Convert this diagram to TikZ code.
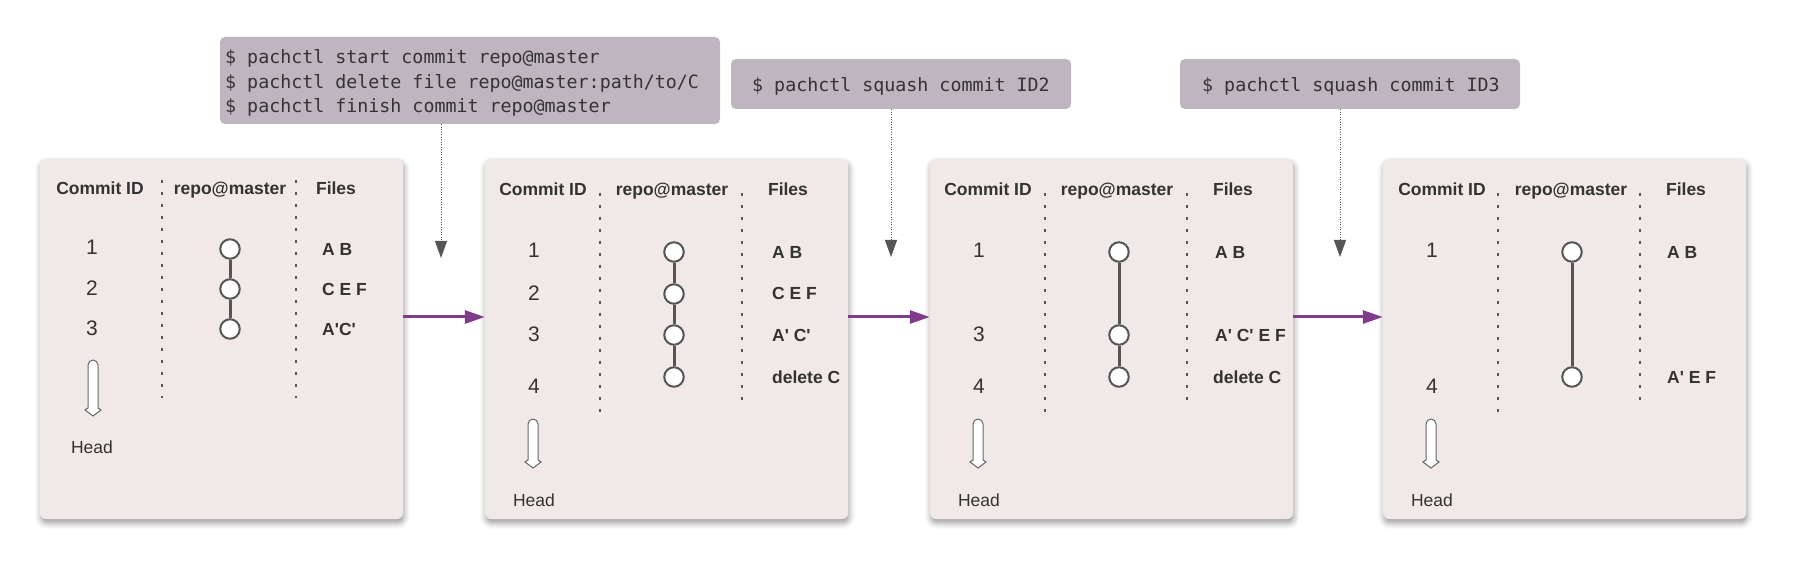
\documentclass[tikz,border=0pt]{standalone}
\usepackage{fontspec}
\setmainfont{Liberation Sans}
\newfontfamily\cmdfont{DejaVu Sans Mono}
\font\filesfont="Liberation Sans/B" at 17.5pt
\usetikzlibrary{arrows.meta,shadows.blur}
\definecolor{panelbg}{HTML}{F0E9E8}
\definecolor{cmdbg}{HTML}{BFB5BE}
\definecolor{ink}{HTML}{333333}
\definecolor{stemgray}{HTML}{555555}
\definecolor{headgray}{HTML}{666666}
\definecolor{flowpurple}{HTML}{7F3C8D}
\begin{document}
\begin{tikzpicture}[x=1pt,y=-1pt,
  panel/.style={fill=panelbg, rounded corners=6pt, minimum width=363pt, minimum height=360pt, inner sep=0pt,
    blur shadow={shadow xshift=1pt, shadow yshift=-4pt, shadow blur radius=6pt, shadow opacity=40}},
  cmdbox/.style={fill=cmdbg, rounded corners=5pt, inner sep=0pt},
  cmdtext/.style={font=\cmdfont\fontsize{18.3}{24.4}\selectfont, text=ink, inner sep=0pt, align=left, anchor=base west},
  hdr/.style={font=\bfseries\fontsize{17.5}{21}\selectfont, text=ink, inner sep=0pt, anchor=base},
  num/.style={font=\fontsize{21}{25}\selectfont, text=ink, inner sep=0pt, anchor=base},
  files/.style={font=\filesfont, text=ink, inner sep=0pt, anchor=base west},
  headlbl/.style={font=\fontsize{17.5}{21}\selectfont, text=ink, inner sep=0pt, anchor=base},
  commit/.style={circle, draw=stemgray, line width=2pt, fill=white, minimum size=19.5pt, inner sep=0pt},
  stem/.style={draw=stemgray, line width=3pt},
  sep/.style={draw=stemgray, line width=1.5pt, dash pattern=on 3pt off 9pt},
  cmdarrow/.style={draw=stemgray, line width=1pt, dash pattern=on 1pt off 1.5pt, -{Triangle[length=17pt,width=12pt]}},
  flow/.style={draw=flowpurple, line width=3pt, -{Triangle[length=20pt,width=13pt]}},
  headarr/.pic={\draw[draw=headgray, line width=1pt, fill=white]
     (-5,{#1-8}) -- (-5,5) arc[start angle=180,end angle=0,radius=5pt] -- (5,{#1-8}) -- (8,{#1-6}) -- (0,#1) -- (-8,{#1-6}) -- cycle;}
]
\useasboundingbox (0,0) rectangle (1797,561);

% panels
\node[panel] (p1) at (221.5,339) {};
\node[panel] (p2) at (666.5,339) {};
\node[panel] (p3) at (1111.5,339) {};
\node[panel] (p4) at (1564.5,339) {};

% command boxes
\node[cmdbox, minimum width=500pt, minimum height=87pt] (cmd1) at (470,80.5) {};
\node[cmdtext] (cmd1t) at (225,112.5) {\$ pachctl start commit repo@master\\\$ pachctl delete file repo@master:path/to/C\\\$ pachctl finish commit repo@master};
\node[cmdbox, minimum width=340pt, minimum height=50pt] (cmd2) at (901,84) {};
\node[cmdtext] (cmd2t) at (752,91.5) {\$ pachctl squash commit ID2};
\node[cmdbox, minimum width=340pt, minimum height=50pt] (cmd3) at (1350,84) {};
\node[cmdtext] (cmd3t) at (1202,91.5) {\$ pachctl squash commit ID3};

\coordinate (t1) at (441,258);
\coordinate (t2) at (891,257);
\coordinate (t3) at (1340,257);
\draw[cmdarrow] (cmd1.south -| t1) -- (t1);
\draw[cmdarrow] (cmd2.south -| t2) -- (t2);
\draw[cmdarrow] (cmd3.south -| t3) -- (t3);

% flow arrows
\draw[flow] ([yshift=22pt]p1.east) -- ([yshift=22pt]p2.west);
\draw[flow] ([yshift=22pt]p2.east) -- ([yshift=22pt]p3.west);
\draw[flow] ([yshift=22pt]p3.east) -- ([yshift=22pt]p4.west);

% ---------- panel 1 ----------
\node[hdr] (p1h1) at (100,195) {Commit ID};
\node[hdr] (p1h2) at (230,195) {repo@master};
\node[hdr] (p1h3) at (336,195) {Files};
\draw[sep] (162,180) -- (162,398);
\draw[sep] (296,180) -- (296,398);
\node[num] (p1n1) at (92,254.5) {1};
\node[num] (p1n2) at (92,295.5) {2};
\node[num] (p1n3) at (92,335.5) {3};
\node[commit] (p1c1) at (230,249) {};
\node[commit] (p1c2) at (230,289) {};
\node[commit] (p1c3) at (230,329) {};
\draw[stem] (p1c1) -- (p1c2);
\draw[stem] (p1c2) -- (p1c3);
\node[files] (p1f1) at (322,255.3) {A B};
\node[files] (p1f2) at (322,295.3) {C E F};
\node[files] (p1f3) at (322,335.3) {A'C'};
\pic at (93,360) {headarr=56};
\node[headlbl] (p1hd) at (92,453) {Head};

% ---------- panel 2 ----------
\node[hdr] (p2h1) at (543,196) {Commit ID};
\node[hdr] (p2h2) at (672,196) {repo@master};
\node[hdr] (p2h3) at (788,196) {Files};
\draw[sep] (600,193) -- (600,412);
\draw[sep] (742,193) -- (742,402);
\node[num] (p2n1) at (534,257.5) {1};
\node[num] (p2n2) at (534,300.5) {2};
\node[num] (p2n3) at (534,341.5) {3};
\node[num] (p2n4) at (534,393.5) {4};
\node[commit] (p2c1) at (674,252) {};
\node[commit] (p2c2) at (674,294) {};
\node[commit] (p2c3) at (674,335) {};
\node[commit] (p2c4) at (674,377) {};
\draw[stem] (p2c1) -- (p2c2);
\draw[stem] (p2c2) -- (p2c3);
\draw[stem] (p2c3) -- (p2c4);
\node[files] (p2f1) at (772,258.3) {A B};
\node[files] (p2f2) at (772,299.3) {C E F};
\node[files] (p2f3) at (772,341.3) {A' C'};
\node[files] (p2f4) at (772,383.3) {delete C};
\pic at (533,419) {headarr=49};
\node[headlbl] (p2hd) at (534,506) {Head};

% ---------- panel 3 ----------
\node[hdr] (p3h1) at (988,196) {Commit ID};
\node[hdr] (p3h2) at (1117,196) {repo@master};
\node[hdr] (p3h3) at (1233,196) {Files};
\draw[sep] (1045,193) -- (1045,412);
\draw[sep] (1187,193) -- (1187,402);
\node[num] (p3n1) at (979,257.5) {1};
\node[num] (p3n3) at (979,341.5) {3};
\node[num] (p3n4) at (979,393.5) {4};
\node[commit] (p3c1) at (1119,252) {};
\node[commit] (p3c3) at (1119,335) {};
\node[commit] (p3c4) at (1119,377) {};
\draw[stem] (p3c1) -- (p3c3);
\draw[stem] (p3c3) -- (p3c4);
\node[files] (p3f1) at (1215,258.3) {A B};
\node[files] (p3f3) at (1215,341.3) {A' C' E F};
\node[files] (p3f4) at (1213,383.3) {delete C};
\pic at (978,419) {headarr=49};
\node[headlbl] (p3hd) at (979,506) {Head};

% ---------- panel 4 ----------
\node[hdr] (p4h1) at (1442,196) {Commit ID};
\node[hdr] (p4h2) at (1571,196) {repo@master};
\node[hdr] (p4h3) at (1686,196) {Files};
\draw[sep] (1498,193) -- (1498,412);
\draw[sep] (1640,193) -- (1640,402);
\node[num] (p4n1) at (1432,257.5) {1};
\node[num] (p4n4) at (1432,393.5) {4};
\node[commit] (p4c1) at (1572,252) {};
\node[commit] (p4c4) at (1572,377) {};
\draw[stem] (p4c1) -- (p4c4);
\node[files] (p4f1) at (1667,258.3) {A B};
\node[files] (p4f4) at (1667,383.3) {A' E F};
\pic at (1431,419) {headarr=49};
\node[headlbl] (p4hd) at (1432,506) {Head};
\end{tikzpicture}
\end{document}
